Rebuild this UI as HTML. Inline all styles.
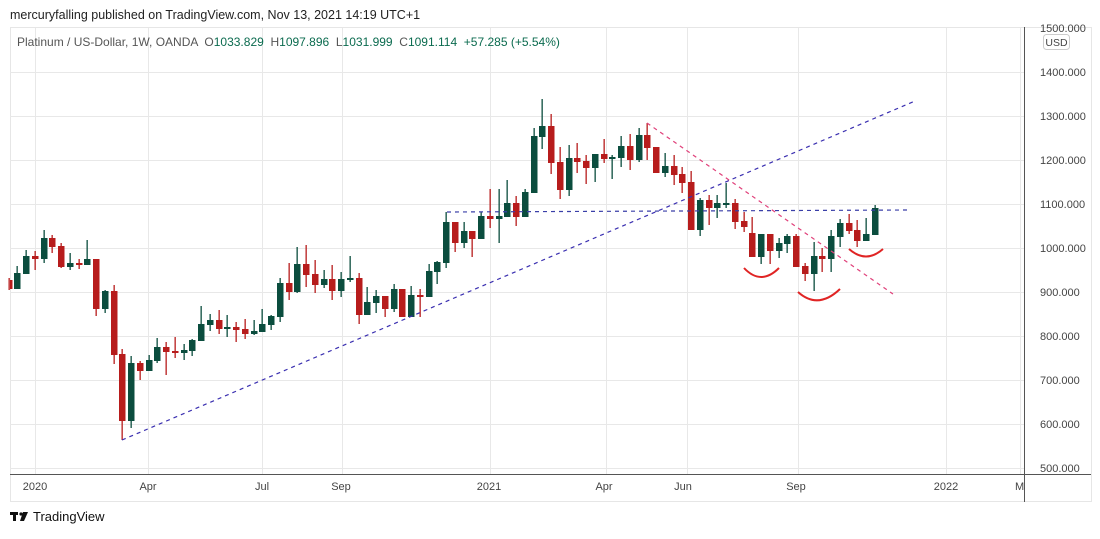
<!DOCTYPE html>
<html><head><meta charset="utf-8"><style>
body{margin:0;background:#fff;width:1100px;height:534px;overflow:hidden;font-family:"Liberation Sans",sans-serif}
</style></head><body>
<svg id="s" width="1100" height="534" xmlns="http://www.w3.org/2000/svg" font-family="Liberation Sans, sans-serif">
<defs><clipPath id="pc"><rect x="1025" y="23" width="70" height="451"/></clipPath></defs>
<text x="10" y="19" font-size="12.5" fill="#222">mercuryfalling published on TradingView.com, Nov 13, 2021 14:19 UTC+1</text>
<rect x="10.5" y="27.5" width="1081" height="474" fill="none" stroke="#e6e6e6"/>
<g id="grid" stroke="#e8e8e8" stroke-width="1"></g>
<line x1="1024.5" y1="27" x2="1024.5" y2="502" stroke="#555"/>
<line x1="10" y1="474.5" x2="1091" y2="474.5" stroke="#555"/>
<g id="c"></g>
<g fill="none" stroke-width="1.2" stroke-dasharray="4,4">
<line x1="122" y1="440" x2="915" y2="101" stroke="#3a2fb0"/>
<line x1="447" y1="212" x2="910" y2="210" stroke="#3a3fa8"/>
<line x1="647" y1="123" x2="893" y2="294" stroke="#e0407a"/>
</g>
<g fill="none" stroke="#e02424" stroke-width="2">
<path d="M744 268 Q761 286 779 268"/>
<path d="M798 292 Q818 310 840 289"/>
<path d="M849 249 Q866 264 883 249"/>
</g>
<text x="17" y="46" font-size="12" fill="#555" xml:space="preserve">Platinum / US-Dollar, 1W, OANDA  O<tspan fill="#0b6b4f">1033.829</tspan>  H<tspan fill="#0b6b4f">1097.896</tspan>  L<tspan fill="#0b6b4f">1031.999</tspan>  C<tspan fill="#0b6b4f">1091.114</tspan>  <tspan fill="#0b6b4f">+57.285 (+5.54%)</tspan></text>
<g id="p" font-size="11" fill="#444" clip-path="url(#pc)"></g>
<rect x="1043.5" y="34.5" width="26" height="15" rx="3" fill="#fff" stroke="#ccc"/>
<text x="1056.5" y="46" font-size="10.5" fill="#444" text-anchor="middle">USD</text>
<g font-size="11" fill="#444" text-anchor="middle">
<text x="35" y="490">2020</text><text x="148" y="490">Apr</text><text x="262" y="490">Jul</text><text x="341" y="490">Sep</text><text x="489" y="490">2021</text><text x="604" y="490">Apr</text><text x="683" y="490">Jun</text><text x="796" y="490">Sep</text><text x="946" y="490">2022</text>
</g>
<text x="1015" y="490" font-size="11" fill="#444">Ma</text>
<rect x="1025" y="476" width="66" height="25" fill="#fff"/>
<g fill="#111"><rect x="10" y="512" width="8" height="3"/><rect x="13" y="512" width="3" height="9"/><circle cx="21" cy="514" r="1.6"/><path d="M23 512 L28 512 L24 521 L20 521 Z"/></g>
<text x="33" y="521" font-size="13" fill="#111">TradingView</text>
</svg>
<script>
var NS="http://www.w3.org/2000/svg";
function el(p,t,a){var e=document.createElementNS(NS,t);for(var k in a)e.setAttribute(k,a[k]);p.appendChild(e);return e;}
var g=document.getElementById("grid");
[72,116,160,204,248,292,336,380,424,468].forEach(function(y){el(g,"line",{x1:10,x2:1024,y1:y+.5,y2:y+.5});});
[35,148,262,342,490,606,687,798,946,1020].forEach(function(x){el(g,"line",{x1:x+.5,x2:x+.5,y1:28,y2:474});});
var p=document.getElementById("p");
var prices=[1500,1400,1300,1200,1100,1000,900,800,700,600,500];
prices.forEach(function(v,i){var y=28+44*i;var t=el(p,"text",{x:1040,y:y+4});t.textContent=v+".000";});
var D=[[280,289,278,290,0],[273,289,266,289,1],[256,274,250,274,1],[256,259,251,270,0],[238,259,230,263,1],[238,247,235,253,0],[246,267,243,268,0],[263,267,253,270,1],[263,265,259,269,0],[259,265,240,265,1],
[259,309,259,316,0],[291,309,290,313,1],[291,355,285,364,0],[354,421,349,440,0],[363,421,356,428,1],[363,371,361,380,0],[360,371,355,371,1],[347,361,338,363,1],[347,352,342,375,0],[351,353,337,358,0],
[350,353,344,360,1],[340,351,339,356,1],[324,341,306,341,1],[320,325,314,331,1],[320,329,310,334,0],[327,329,315,337,1],[327,330,322,342,0],[329,334,319,339,0],[331,334,320,335,1],[324,332,309,332,1],
[316,325,315,330,1],[283,317,278,322,1],[283,292,263,300,0],[264,292,247,293,1],[264,275,245,287,0],[274,285,260,293,0],[279,285,270,288,1],[279,291,265,300,0],[279,291,272,297,1],[278,280,256,282,1],
[278,315,273,324,0],[302,315,287,315,1],[296,303,290,313,1],[296,309,296,317,0],[289,309,284,312,1],[289,317,289,317,0],[295,317,286,317,1],[295,297,289,317,0],[271,297,264,297,1],[262,272,261,284,1],
[222,263,212,268,1],[222,243,222,252,0],[231,243,222,248,1],[231,239,231,257,0],[216,239,212,239,1],[216,219,189,228,0],[216,219,189,243,1],[203,217,180,217,1],[203,217,196,226,0],[192,217,189,217,1],
[136,193,128,193,1],[126,137,99,149,1],[126,163,114,174,0],[162,190,147,199,0],[158,190,145,196,1],[158,162,143,173,0],[161,168,155,184,0],[154,168,154,182,1],[154,159,139,163,0],[157,159,155,179,1],
[146,158,136,167,1],[146,160,134,170,0],[135,160,128,162,1],[135,148,123,160,0],[147,173,147,173,0],[166,173,153,177,1],[166,175,155,185,0],[174,183,167,193,0],[182,230,171,230,0],[200,230,198,236,1],
[200,208,195,225,0],[203,208,195,218,1],[203,204,183,208,1],[203,222,199,229,0],[221,227,212,232,0],[233,257,217,257,0],[234,257,234,264,1],[234,251,234,264,0],[243,251,238,258,1],[236,244,234,253,1],
[236,267,234,267,0],[266,274,263,281,0],[256,274,242,291,1],[256,259,248,272,0],[236,259,230,272,1],[223,237,219,247,1],[223,231,214,234,0],[230,241,220,247,0],[234,241,218,241,1],[208,235,205,235,1]];
var c=document.getElementById("c");
D.forEach(function(d,k){var x=Math.round(8.7+8.75*k);var col=d[4]?"#0b4d3e":"#b71c1c";
el(c,"rect",{x:x-0.5,y:d[2],width:1.3,height:Math.max(1,d[3]-d[2]),fill:col});
var x0=Math.max(10,x-3);el(c,"rect",{x:x0,y:d[0],width:x+3.5-x0,height:Math.max(2,d[1]-d[0]),fill:col});});
</script>
</body></html>
